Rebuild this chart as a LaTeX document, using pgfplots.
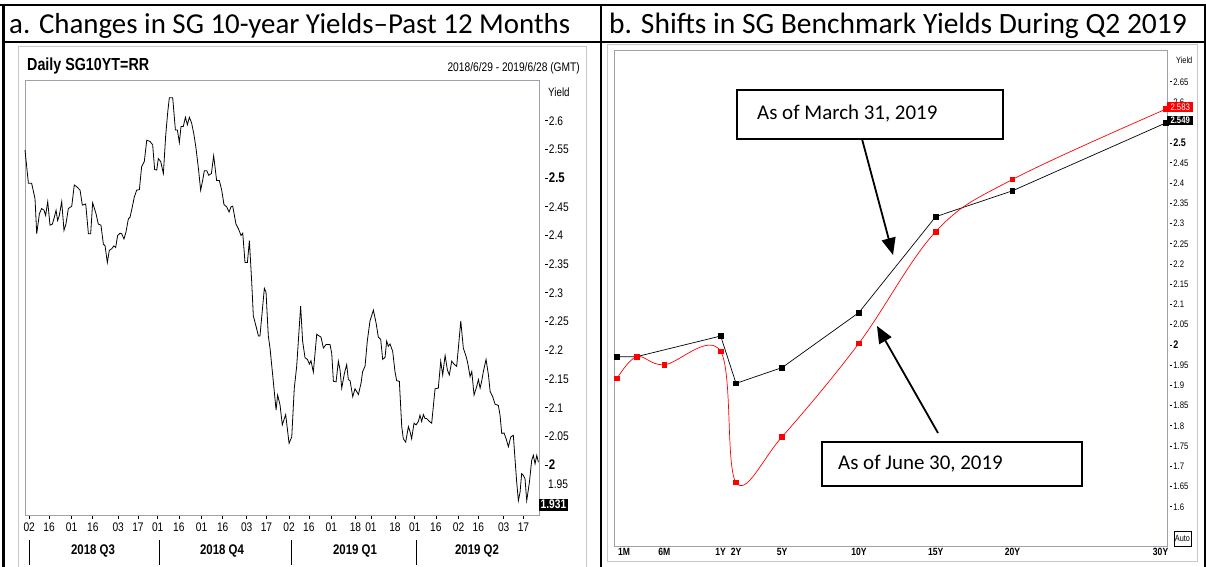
\documentclass[border=0pt]{standalone}
\usepackage{pgfplots}
\pgfplotsset{compat=1.18}
\usepackage{fontspec}
\setmainfont{Liberation Sans}
\newfontfamily\calibri{Carlito}
\newfontfamily\nfont[FakeStretch=0.82]{Liberation Sans}
\usetikzlibrary{arrows.meta}
\definecolor{boxgray}{RGB}{160,160,172}
\definecolor{framegray}{RGB}{200,200,200}

\newcommand{\fs}[1]{\fontsize{#1}{#1}\selectfont}
% tick label with a small dash in front, as in the Reuters charts
\newcommand{\tk}[1]{\rule[0.33em]{2.5bp}{0.6bp}\hspace{1.2bp}#1}
\newcommand{\tkb}[1]{\rule[0.33em]{2.5bp}{0.6bp}\hspace{1.2bp}{\bfseries\fs{14}#1}}
\newcommand{\tks}[1]{\rule[0.33em]{2.5bp}{0.6bp}\hspace{1.2bp}{\bfseries\fs{11}#1}}

\begin{document}
\begin{tikzpicture}[x=1bp,y=1bp]

% ---- table frame and headers
\draw[line width=2bp] (0,562) -- (1206,562);
\draw[line width=1.5bp] (3,525) -- (1206,525);
\draw[line width=2bp] (3.5,562) -- (3.5,0);
\draw[line width=2bp] (601,562) -- (601,0);
\draw[line width=2bp] (1204.5,562) -- (1204.5,0);
\node[anchor=base west, inner sep=0, font=\calibri\fs{29}] at (9,533) {a. Changes in SG 10-year Yields–Past 12 Months};
\node[anchor=base west, inner sep=0, font=\calibri\fs{29.6}] at (609,533) {b. Shifts in SG Benchmark Yields During Q2 2019};

% ---- panel a frame
\draw[framegray, line width=1bp] (18,-2) -- (18,520) -- (586,520) -- (586,-2);
\node[anchor=west, inner sep=0, font=\nfont\bfseries\fs{17.5}] at (27,501) {Daily SG10YT=RR};
\node[anchor=east, inner sep=0, font=\nfont\fs{12.5}] at (580,499) {2018/6/29 - 2019/6/28 (GMT)};

\begin{axis}[
  at={(25bp,52bp)}, anchor=south west,
  scale only axis, width=514bp, height=435bp,
  xmin=0, xmax=364, ymin=1.913, ymax=2.671,
  axis line style={boxgray, line width=0.8bp},
  xtick={3,17,33,48,66,80,94,109,125,140,157,171,187,201,217,234,245,262,276,291,307,321,339,353},
  xticklabels={02,16,01,16,03,17,01,16,01,16,03,17,02,16,01,18,01,18,01,16,02,16,03,17},
  xtick pos=bottom, tick align=outside, major tick length=4bp,
  xtick style={black, line width=0.6bp},
  xticklabel style={font=\nfont\fs{12.5}, anchor=center, yshift=-8bp},
  ytick={2,2.05,2.1,2.15,2.2,2.25,2.3,2.35,2.4,2.45,2.5,2.55,2.6},
  yticklabels={\tkb{2},\tk{2.05},\tk{2.1},\tk{2.15},\tk{2.2},\tk{2.25},\tk{2.3},\tk{2.35},\tk{2.4},\tk{2.45},\tkb{2.5},\tk{2.55},\tk{2.6}},
  ytick pos=right, yticklabel pos=right,
  ytick style={draw=none},
  yticklabel style={font=\nfont\fs{12.5}, anchor=west, inner sep=0pt, xshift=2bp},
  clip=false,
]
\addplot[black, line width=0.8bp] table[x=day, y=yield] {
day yield
0 2.549
2.4 2.491
4.7 2.491
7.1 2.464
8.3 2.403
10.2 2.438
11.8 2.447
13.5 2.444
14.6 2.435
16.1 2.459
17.7 2.418
19.4 2.420
20.8 2.432
22.0 2.444
23.1 2.426
24.3 2.435
26.0 2.459
27.6 2.409
29.0 2.420
30.7 2.447
33.1 2.451
34.9 2.488
36.6 2.485
39.0 2.479
40.6 2.453
43.0 2.455
44.9 2.403
46.5 2.403
47.9 2.457
50.3 2.438
51.9 2.420
53.8 2.418
55.5 2.385
56.7 2.382
58.3 2.353
59.7 2.374
61.4 2.377
63.0 2.382
64.2 2.379
65.6 2.400
67.3 2.404
68.5 2.403
70.1 2.394
71.5 2.406
73.2 2.429
74.4 2.432
76.0 2.450
77.4 2.467
79.1 2.479
81.0 2.480
82.6 2.520
84.5 2.529
86.2 2.566
88.5 2.564
90.4 2.558
91.8 2.515
93.3 2.514
94.4 2.534
96.1 2.529
98.0 2.508
99.6 2.573
101.0 2.613
102.2 2.640
104.6 2.640
106.5 2.584
107.9 2.584
109.3 2.562
110.5 2.590
112.1 2.590
113.6 2.606
115.0 2.593
116.4 2.606
118.0 2.596
119.7 2.575
121.1 2.552
122.8 2.517
124.4 2.479
125.8 2.496
127.0 2.513
128.7 2.513
130.1 2.505
132.0 2.508
133.6 2.539
135.7 2.496
137.6 2.496
139.3 2.479
140.9 2.454
142.8 2.450
144.5 2.441
145.9 2.450
147.1 2.451
149.4 2.420
151.1 2.412
153.0 2.400
154.2 2.404
155.8 2.353
157.5 2.353
158.9 2.391
160.5 2.321
161.7 2.260
163.6 2.242
165.3 2.225
166.4 2.225
169.5 2.308
170.7 2.301
172.3 2.225
173.5 2.204
175.4 2.157
177.8 2.096
178.9 2.122
180.6 2.105
182.2 2.070
184.6 2.088
187.0 2.038
188.9 2.049
190.7 2.134
192.4 2.172
195.2 2.277
196.6 2.216
198.3 2.187
200.0 2.184
201.4 2.176
202.5 2.182
204.2 2.162
206.6 2.228
207.7 2.226
209.6 2.223
211.3 2.204
213.2 2.210
216.0 2.210
217.2 2.195
218.4 2.146
220.3 2.145
221.9 2.181
223.1 2.166
224.3 2.134
226.2 2.160
227.8 2.175
229.0 2.149
230.2 2.147
232.1 2.119
233.7 2.133
234.9 2.128
236.1 2.123
238.0 2.143
239.1 2.163
240.8 2.172
242.4 2.216
244.3 2.251
246.7 2.270
248.6 2.248
250.2 2.223
251.9 2.219
253.3 2.184
255.0 2.188
256.1 2.216
257.3 2.207
258.5 2.211
260.4 2.198
262.0 2.163
263.2 2.147
265.1 2.146
266.8 2.067
267.9 2.046
269.6 2.040
271.5 2.067
272.7 2.058
273.8 2.046
275.5 2.073
276.9 2.070
278.6 2.076
279.7 2.087
280.9 2.076
282.1 2.088
283.3 2.081
284.5 2.081
286.4 2.076
288.0 2.073
290.4 2.133
292.7 2.134
294.4 2.181
295.8 2.157
297.5 2.191
299.1 2.166
300.5 2.157
302.2 2.181
303.8 2.176
305.7 2.172
306.9 2.204
308.6 2.251
310.4 2.204
312.3 2.190
313.5 2.178
315.2 2.154
316.4 2.163
318.0 2.122
319.9 2.137
321.1 2.149
322.3 2.134
323.4 2.146
324.6 2.163
326.5 2.184
328.2 2.157
329.4 2.128
331.2 2.119
332.9 2.106
335.2 2.104
336.4 2.087
337.6 2.055
339.2 2.056
340.7 2.046
342.3 2.032
344.0 2.049
345.8 2.052
347.0 2.011
348.2 1.970
349.4 1.938
350.6 1.953
351.7 1.985
352.9 1.982
354.1 1.976
355.3 1.938
357.2 1.970
358.8 2.008
360.0 2.017
361.2 2.002
362.4 2.017
363.6 2.005
};
\node[fill=black, text=white, font=\nfont\bfseries\fs{12.5}, inner sep=1.5bp, anchor=west] at (axis cs:364,1.931) {1.931};
\end{axis}
\node[anchor=west, inner sep=0, font=\nfont\fs{12}] at (548,475) {Yield};
\node[anchor=west, inner sep=0, font=\nfont\fs{12.5}] at (548,83) {1.95};
% quarter separators and labels
\foreach \qx in {29,159,291,416} \draw[line width=0.8bp] (\qx,27) -- (\qx,2);
\node[font=\nfont\bfseries\fs{14}] at (93,16) {2018 Q3};
\node[font=\nfont\bfseries\fs{14}] at (222,16) {2018 Q4};
\node[font=\nfont\bfseries\fs{14}] at (355,16) {2019 Q1};
\node[font=\nfont\bfseries\fs{14}] at (477,16) {2019 Q2};

% ---- panel b frame
\draw[framegray, line width=1bp] (607,5) rectangle (1197,522);

\begin{axis}[
  at={(614bp,21bp)}, anchor=south west,
  scale only axis, width=553bp, height=496bp,
  xmin=-5.944, xmax=30.06, ymin=1.503, ymax=2.729,
  axis line style={boxgray, line width=0.8bp},
  xtick={-5.75,-2.67,1,2,5,10,15,20,30},
  xticklabels={\hspace*{14bp}1M,6M,1Y,2Y,5Y,10Y,15Y,20Y,30Y\hspace*{11bp}},
  major tick length=0pt,
  xtick style={draw=none},
  xticklabel style={font=\nfont\bfseries\fs{10.5}, anchor=center, yshift=-6bp},
  ytick={1.6,1.65,1.7,1.75,1.8,1.85,1.9,1.95,2,2.05,2.1,2.15,2.2,2.25,2.3,2.35,2.4,2.45,2.5,2.55,2.6,2.65},
  yticklabels={\tk{1.6},\tk{1.65},\tk{1.7},\tk{1.75},\tk{1.8},\tk{1.85},\tk{1.9},\tk{1.95},\tks{2},\tk{2.05},\tk{2.1},\tk{2.15},\tk{2.2},\tk{2.25},\tk{2.3},\tk{2.35},\tk{2.4},\tk{2.45},\tks{2.5},\tk{2.55},\tk{2.6},\tk{2.65}},
  ytick pos=right, yticklabel pos=right,
  ytick style={draw=none},
  yticklabel style={font=\nfont\fs{9.5}, anchor=west, inner sep=0pt, xshift=2.5bp},
  clip=false,
]
% as of March 31, 2019
\addplot[black, line width=0.7bp, mark=square*, mark size=2.3bp, mark options={fill=black}] coordinates {
(-5.75,1.971) (-4.47,1.971) (1,2.022) (2,1.905) (5,1.944) (10,2.080) (15,2.317) (20,2.381) (30,2.549)
};
% as of June 30, 2019
\addplot[red, line width=0.7bp, smooth, tension=0.6, mark=square*, mark size=2.3bp, mark options={fill=red}] coordinates {
(-5.75,1.917) (-4.47,1.971) (-2.67,1.951) (1,1.984) (2,1.660) (5,1.773) (10,2.004) (15,2.280) (20,2.409) (30,2.583)
};
\node[fill=red, text=white, font=\nfont\fs{9.5}, inner sep=1.2bp, anchor=west, minimum width=26bp] at (axis cs:30.06,2.588) {2.583};
\node[fill=black, text=white, font=\nfont\bfseries\fs{9.5}, inner sep=1.2bp, anchor=west, minimum width=26bp] at (axis cs:30.06,2.555) {2.549};
\end{axis}
\node[anchor=west, inner sep=0, font=\nfont\fs{9}] at (1176,507) {Yield};
\draw[line width=0.6bp] (1174,21) rectangle (1191,36);
\node[inner sep=0, font=\nfont\fs{9}] at (1182.5,28.5) {Auto};

% ---- annotations
\draw[line width=1.5bp, fill=white] (737,428) rectangle (1003,477);
\node[anchor=west, inner sep=0, font=\calibri\fs{21}] at (757,453) {As of March 31, 2019};
\draw[line width=1.8bp, -{Triangle[length=17bp,width=14bp]}] (862,428) -- (893,312);
\draw[line width=1.5bp, fill=white] (822,81) rectangle (1082,125);
\node[anchor=west, inner sep=0, font=\calibri\fs{21}] at (838,103) {As of June 30, 2019};
\draw[line width=1.8bp, -{Triangle[length=17bp,width=14bp]}] (938,134) -- (877,241);

\pgfresetboundingbox
\useasboundingbox (0,0) rectangle (1206,567);
\end{tikzpicture}
\end{document}
